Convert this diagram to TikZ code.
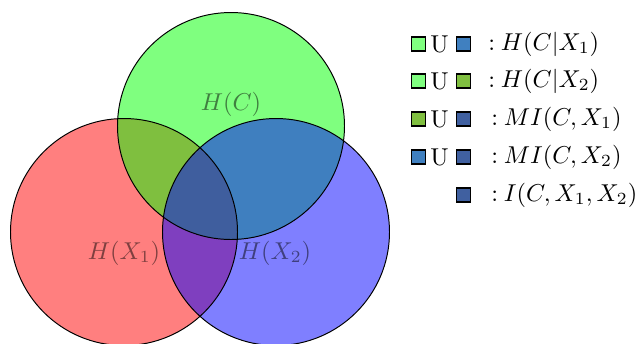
\documentclass[tikz,border=0pt]{standalone}
\usepackage{tikz}
\definecolor{cG}{RGB}{128,255,128}
\definecolor{cGB}{RGB}{64,128,192}
\definecolor{cGR}{RGB}{128,191,64}
\definecolor{cAll}{RGB}{64,96,160}
\tikzset{
  setfill/.style={fill opacity=0.5, draw=none},
  setedge/.style={draw=black, line width=0.4pt},
  setlabel/.style={text opacity=0.5, font=\normalsize},
  swatch/.style={draw=black, line width=0.6pt, minimum size=5.8pt, inner sep=0pt},
  legtext/.style={anchor=west, inner sep=0pt},
}
\newcommand{\legcolon}{:\hspace{2.3pt}}
\begin{document}
\begin{tikzpicture}[x=0.41pt, y=0.41pt]
  \useasboundingbox (0,0) rectangle (635,343);
  % circle centres
  \coordinate (C)  at (231,217);
  \coordinate (X1) at (124,111);
  \coordinate (X2) at (276,111);
  \def\rad{113.5*0.41pt}
  \begin{scope}
    \clip (0,0) rectangle (635,343);
    \fill[setfill, red]   (X1) circle[radius=\rad];
    \fill[setfill, green] (C)  circle[radius=\rad];
    \fill[setfill, blue]  (X2) circle[radius=\rad];
    \draw[setedge] (X1) circle[radius=\rad];
    \draw[setedge] (C)  circle[radius=\rad];
    \draw[setedge] (X2) circle[radius=\rad];
  \end{scope}
  \node[setlabel] (lC)  at (231,239) {$H(C)$};
  \node[setlabel] (lX1) at (124,90)  {$H(X_1)$};
  \node[setlabel] (lX2) at (275,90)  {$H(X_2)$};

  % legend
  \node[swatch, fill=cG]   (a1) at (418.5,299) {};
  \node (u1) at (439.5,299) {U};
  \node[swatch, fill=cGB]  (b1) at (463.5,299) {};
  \node[legtext] (t1) at (488,299) {\legcolon$H(C|X_1)$};

  \node[swatch, fill=cG]   (a2) at (418.5,262) {};
  \node (u2) at (439.5,262) {U};
  \node[swatch, fill=cGR]  (b2) at (463.5,262) {};
  \node[legtext] (t2) at (488,262) {\legcolon$H(C|X_2)$};

  \node[swatch, fill=cGR]  (a3) at (418.5,224) {};
  \node (u3) at (439.5,224) {U};
  \node[swatch, fill=cAll] (b3) at (463.5,224) {};
  \node[legtext] (t3) at (491,224) {\legcolon$MI(C,X_1)$};

  \node[swatch, fill=cGB]  (a4) at (418.5,186) {};
  \node (u4) at (439.5,186) {U};
  \node[swatch, fill=cAll] (b4) at (463.5,186) {};
  \node[legtext] (t4) at (491,186) {\legcolon$MI(C,X_2)$};

  \node[swatch, fill=cAll] (b5) at (463.5,148) {};
  \node[legtext] (t5) at (491,148) {\legcolon$I(C,X_1,X_2)$};
\end{tikzpicture}
\end{document}
